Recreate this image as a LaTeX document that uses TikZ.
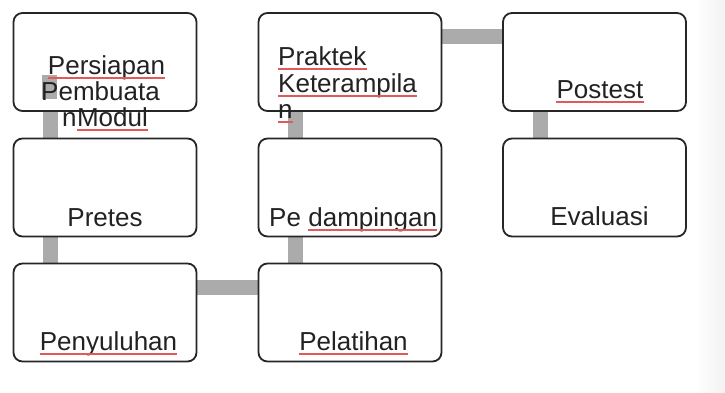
\documentclass[tikz,border=0pt]{standalone}
\usepackage{fontspec}
\setmainfont{Liberation Sans}
\usetikzlibrary{backgrounds}
\definecolor{conngray}{HTML}{ABABAB}
\definecolor{boxline}{HTML}{262626}
\definecolor{txt}{HTML}{222222}
\definecolor{spell}{HTML}{E05A5A}
\tikzset{
  stepbox/.style={draw=boxline, line width=1.8pt, fill=white, rounded corners=9pt,
    minimum width=183pt, minimum height=98pt, inner sep=0pt},
  conn/.style={draw=conngray, line width=15pt},
  lbl/.style={inner sep=0pt, anchor=base, text=txt, font=\fontsize{26}{31}\selectfont},
  lblw/.style={lbl, anchor=base west},
  spellline/.style={draw=spell, line width=1.4pt}
}
\begin{document}
\begin{tikzpicture}[x=1pt,y=-1pt]
\useasboundingbox (0,0) rectangle (725,392);
% boxes
\node[stepbox] (persiapan) at (105,62) {};
\node[stepbox] (pretes) at (105,187.5) {};
\node[stepbox] (penyuluhan) at (105,312.5) {};
\node[stepbox] (praktek) at (350,62) {};
\node[stepbox] (pendampingan) at (350,187.5) {};
\node[stepbox] (pelatihan) at (350,312.5) {};
\node[stepbox] (postest) at (594.5,62) {};
\node[stepbox] (evaluasi) at (594.5,187.5) {};
% background and connectors
\begin{scope}[on background layer]
\fill[white] (0,0) rectangle (725,392);
\shade[left color=white, right color=black!5] (695,0) rectangle (725,392);
\draw[conn] ([xshift=-55pt]persiapan.south) -- ([xshift=-55pt]pretes.north);
\draw[conn] ([xshift=-55pt]pretes.south) -- ([xshift=-55pt]penyuluhan.north);
\draw[conn] ([yshift=25pt]penyuluhan.east) -- ([yshift=25pt]pelatihan.west);
\draw[conn] ([xshift=-55pt]pelatihan.north) -- ([xshift=-55pt]pendampingan.south);
\draw[conn] ([xshift=-55pt]pendampingan.north) -- ([xshift=-55pt]praktek.south);
\draw[conn] ([yshift=25.5pt]praktek.east) -- ([yshift=25.5pt]postest.west);
\draw[conn] ([xshift=-54.5pt]postest.south) -- ([xshift=-54.5pt]evaluasi.north);
\end{scope}
\fill[conngray] (42,75) rectangle (57,99);
% labels
\node[lbl] (t1a) at (106.5,74) {Persiapan};
\node[lbl] (t1b) at (100.5,100) {Pembuata};
\node[lblw] (t1n) at (62,126) {n};
\node[lblw] (t1m) at (t1n.base east) {Modul};
\node[lblw] (t2a) at (278,65) {Praktek};
\node[lblw] (t2b) at (278,92) {Keterampila};
\node[lblw] (t2c) at (278,118) {n};
\node[lbl] (t3) at (600,98) {Postest};
\node[lbl] (t4) at (105,226) {Pretes};
\node[lblw] (t5a) at (269,226) {Pe};
\node[lblw] (t5b) at ([xshift=7pt]t5a.base east) {dampingan};
\node[lbl] (t6) at (599.5,225) {Evaluasi};
\node[lbl] (t7) at (108.5,350) {Penyuluhan};
\node[lbl] (t8) at (353.5,350) {Pelatihan};
% spell-check underlines
\foreach \w in {t1a,t1m,t2a,t2b,t2c,t3,t5b,t7,t8}{
  \draw[spellline] ([yshift=-4pt]\w.base west) -- ([yshift=-4pt]\w.base east);
}
\end{tikzpicture}
\end{document}
